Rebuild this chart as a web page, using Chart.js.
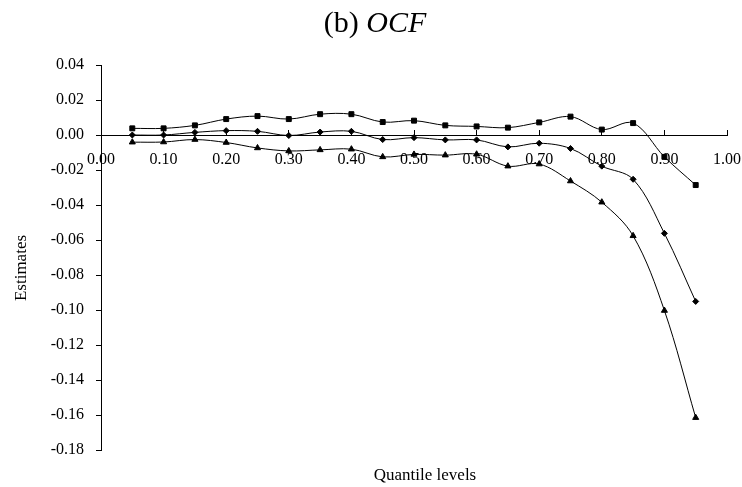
<!DOCTYPE html>
<html>
  <head>
    <title>(b) OCF - quantile estimates</title>
    <meta charset="utf-8" />
    <script src="https://cdn.jsdelivr.net/npm/chart.js"></script>
    <style>
      html, body { margin: 0; padding: 0; background: #fff; }
      #wrap { width: 742px; height: 487px; }
    </style>
  </head>
  <body>
    <div id="wrap"><canvas id="chartOCF"></canvas></div>
    <script>
      // quantile levels on the x axis
      const quantis = [0.05, 0.10, 0.15, 0.20, 0.25, 0.30, 0.35, 0.40, 0.45, 0.50,
                       0.55, 0.60, 0.65, 0.70, 0.75, 0.80, 0.85, 0.90, 0.95];
      // series
      const serieQuadrado = [0.0038, 0.0038, 0.0055, 0.0091, 0.0108, 0.0091, 0.0119, 0.0119, 0.0074, 0.0082,
                             0.0055, 0.0049, 0.0042, 0.0072, 0.0105, 0.0031, 0.0068, -0.0125, -0.0286];
      const serieLosango = [0.0000, 0.0000, 0.0015, 0.0025, 0.0021, -0.0003, 0.0017, 0.0021, -0.0026, -0.0015,
                            -0.0028, -0.0028, -0.0068, -0.0047, -0.0077, -0.0178, -0.0253, -0.0562, -0.0951];
      const serieTriangulo = [-0.0041, -0.0040, -0.0026, -0.0043, -0.0074, -0.0091, -0.0085, -0.0081, -0.0125, -0.0111,
                              -0.0115, -0.0110, -0.0178, -0.0166, -0.0263, -0.0384, -0.0576, -0.1003, -0.1615];
      const ticksX = [0, 0.1, 0.2, 0.3, 0.4, 0.5, 0.6, 0.7, 0.8, 0.9, 1.0];
      const ticksY = [-0.18, -0.16, -0.14, -0.12, -0.10, -0.08, -0.06, -0.04, -0.02, 0.00, 0.02, 0.04];

      const fonte = "'Liberation Serif', 'Times New Roman', serif";

      function pontos(serie) {
        return serie.map((v, i) => ({ x: quantis[i], y: v }));
      }

      function serieCfg(label, serie, estilo, raio) {
        return {
          label: label,
          data: pontos(serie),
          borderColor: "#000",
          backgroundColor: "#000",
          borderWidth: 1,
          tension: 0.35,
          pointStyle: estilo,
          pointRadius: raio,
          pointBorderWidth: 1,
        };
      }

      // title with italic part + axis captions
      const textos = {
        id: "textos",
        afterDraw(chart) {
          const ctx = chart.ctx;
          const area = chart.chartArea;
          ctx.save();
          ctx.fillStyle = "#000";
          ctx.textBaseline = "middle";
          ctx.textAlign = "left";
          const normal = "30px " + fonte;
          const italico = "italic 30px " + fonte;
          ctx.font = normal;
          const w1 = ctx.measureText("(b) ").width;
          ctx.font = italico;
          const w2 = ctx.measureText("OCF").width;
          const x0 = chart.width / 2 - (w1 + w2) / 2 + 4;
          ctx.font = normal;
          ctx.fillText("(b) ", x0, 24);
          ctx.font = italico;
          ctx.fillText("OCF", x0 + w1, 24);

          ctx.font = "17px " + fonte;
          ctx.textAlign = "center";
          ctx.fillText("Quantile levels", (area.left + area.right) / 2 + 11, 476);

          ctx.translate(22, 268);
          ctx.rotate(-Math.PI / 2);
          ctx.fillText("Estimates", 0, 0);
          ctx.restore();
        },
      };

      const ctx = document.getElementById("chartOCF").getContext("2d");
      const chartOCF = new Chart(ctx, {
        type: "line",
        data: {
          datasets: [
            serieCfg("Quadrado", serieQuadrado, "rect", 3.5),
            serieCfg("Losango", serieLosango, "rectRot", 3),
            serieCfg("Triangulo", serieTriangulo, "triangle", 3.5),
          ],
        },
        plugins: [textos],
        options: {
          responsive: true,
          maintainAspectRatio: false,
          animation: false,
          layout: { padding: { left: 0, top: 65, right: 15, bottom: 37 } },
          plugins: {
            legend: { display: false },
            tooltip: { enabled: false },
          },
          scales: {
            x: {
              type: "linear",
              position: { y: 0 },
              min: 0,
              max: 1,
              afterBuildTicks: (s) => { s.ticks = ticksX.map((v) => ({ value: v })); },
              afterFit: (s) => { s.paddingLeft = 0; s.paddingRight = 0; },
              grid: { drawOnChartArea: false, drawTicks: true, tickLength: -6, tickColor: "#000", tickWidth: 1 },
              border: { color: "#000", width: 1 },
              ticks: {
                color: "#000",
                padding: 21,
                maxRotation: 0,
                font: { family: fonte, size: 16 },
                callback: (v) => Number(v).toFixed(2),
              },
            },
            y: {
              type: "linear",
              min: -0.18,
              max: 0.04,
              afterBuildTicks: (s) => { s.ticks = ticksY.map((v) => ({ value: v })); },
              afterFit: (s) => { s.width = 101; },
              grid: { drawOnChartArea: false, drawTicks: true, tickLength: 5, tickColor: "#000", tickWidth: 1 },
              border: { color: "#000", width: 1 },
              ticks: {
                color: "#000",
                padding: 12,
                font: { family: fonte, size: 16 },
                callback: (v) => Number(v).toFixed(2),
              },
            },
          },
        },
      });
    </script>
  </body>
</html>
